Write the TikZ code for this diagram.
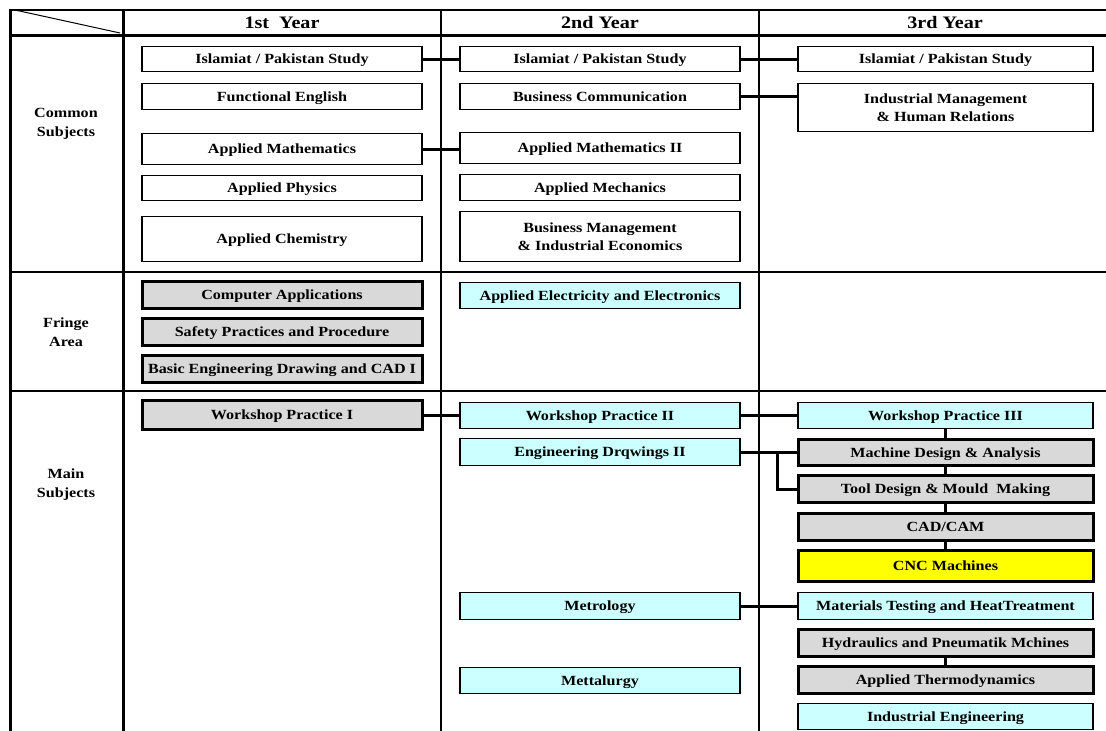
\documentclass[tikz,border=0pt]{standalone}
\usepackage{fontspec}
\setmainfont{Liberation Serif}[FakeStretch=1.15]
\definecolor{cyanfill}{HTML}{CCFFFF}
\definecolor{grayfill}{HTML}{D9D9D9}
\definecolor{yellowfill}{HTML}{FFFF00}
\tikzset{
  box/.style={draw=black, line width=1.6pt, inner sep=0pt, text depth=0pt,
    font=\fontsize{14}{18}\selectfont\bfseries},
  twoline/.style={align=center, text depth=, yshift=0pt},
  plainbox/.style={box, fill=white},
  cyanbox/.style={box, fill=cyanfill},
  graybox/.style={box, fill=grayfill, line width=3pt},
  yellowbox/.style={box, fill=yellowfill, line width=3pt},
  conn/.style={line width=3pt},
  thingrid/.style={line width=1.8pt},
  thickgrid/.style={line width=3pt},
  headtext/.style={font=\fontsize{17.5}{20}\selectfont\bfseries, inner sep=0pt},
  rowlabel/.style={font=\fontsize{14}{19}\selectfont\bfseries, align=center, inner sep=0pt},
  c1/.style={minimum width=280pt},
  c2/.style={minimum width=280pt},
  c3/.style={minimum width=295pt}
}
\begin{document}
\begin{tikzpicture}[x=1pt,y=-1pt]
\useasboundingbox (0,0) rectangle (1106,731);
% grid
\draw[thingrid] (10,10) -- (1106,10);
\draw[thickgrid] (10,35) -- (1106,35);
\draw[thingrid] (10,272) -- (1106,272);
\draw[thingrid] (10,391) -- (1106,391);
\draw[thickgrid] (10,8.5) -- (10,731);
\draw[thickgrid] (123,10) -- (123,731);
\draw[thingrid] (441,10) -- (441,731);
\draw[thingrid] (759,10) -- (759,731);
\draw[line width=1pt] (15,10) -- (120,33);
% headers
\node[headtext] (h1) at (282,23) {1st\ \ Year};
\node[headtext] (h2) at (600,23) {2nd Year};
\node[headtext] (h3) at (945,23) {3rd Year};
% row labels
\node[rowlabel] (lc) at (66,124) {Common\\Subjects};
\node[rowlabel] (lf) at (66,332) {Fringe\\Area};
\node[rowlabel] (lm) at (66,485) {Main\\Subjects};
% common subjects
\node[plainbox, c1, minimum height=25pt] (isl1) at (282,59) {Islamiat / Pakistan Study};
\node[plainbox, c1, minimum height=26pt] (fe) at (282,96.5) {Functional English};
\node[plainbox, c1, minimum height=31pt] (am1) at (282,149) {Applied Mathematics};
\node[plainbox, c1, minimum height=25pt] (ap) at (282,188) {Applied Physics};
\node[plainbox, c1, minimum height=45pt] (ac) at (282,239) {Applied Chemistry};
\node[plainbox, c2, minimum height=25pt] (isl2) at (600,59) {Islamiat / Pakistan Study};
\node[plainbox, c2, minimum height=26pt] (bc) at (600,96.5) {Business Communication};
\node[plainbox, c2, minimum height=31pt] (am2) at (600,148) {Applied Mathematics II};
\node[plainbox, c2, minimum height=26pt] (mech) at (600,187.5) {Applied Mechanics};
\node[plainbox, twoline, c2, minimum height=50pt] (bm) at (600,236.5) {Business Management\\\& Industrial Economics};
\node[plainbox, c3, minimum height=25pt] (isl3) at (945.5,59) {Islamiat / Pakistan Study};
\node[plainbox, twoline, c3, minimum height=48pt] (imhr) at (945.5,107.5) {Industrial Management\\\& Human Relations};
% fringe area
\node[graybox, c1, minimum height=27pt] (comp) at (282,294.5) {Computer Applications};
\node[graybox, c1, minimum height=27pt] (safe) at (282,331.5) {Safety Practices and Procedure};
\node[graybox, c1, minimum height=27pt] (bed) at (282,368.5) {Basic Engineering Drawing and CAD I};
\node[cyanbox, c2, minimum height=26pt] (aee) at (600,295.5) {Applied Electricity and Electronics};
% main subjects
\node[graybox, c1, minimum height=29pt] (wp1) at (282,415) {Workshop Practice I};
\node[cyanbox, c2, minimum height=26pt] (wp2) at (600,415.5) {Workshop Practice II};
\node[cyanbox, c2, minimum height=27pt] (ed2) at (600,452) {Engineering Drqwings II};
\node[cyanbox, c2, minimum height=27pt] (met) at (600,606) {Metrology};
\node[cyanbox, c2, minimum height=26pt] (mett) at (600,680.5) {Mettalurgy};
\node[cyanbox, c3, minimum height=26pt] (wp3) at (945.5,415.5) {Workshop Practice III};
\node[graybox, c3, minimum height=26pt] (md) at (945.5,452.5) {Machine Design \& Analysis};
\node[graybox, c3, minimum height=27pt] (td) at (945.5,489) {Tool Design \& Mould\ \ Making};
\node[graybox, c3, minimum height=27pt] (cad) at (945.5,527) {CAD/CAM};
\node[yellowbox, c3, minimum height=31pt] (cnc) at (945.5,566) {CNC Machines};
\node[cyanbox, c3, minimum height=27pt] (mt) at (945.5,606) {Materials Testing and HeatTreatment};
\node[graybox, c3, minimum height=27pt] (hyd) at (945.5,643) {Hydraulics and Pneumatik Mchines};
\node[graybox, c3, minimum height=27pt] (thermo) at (945.5,680) {Applied Thermodynamics};
\node[cyanbox, c3, minimum height=26pt] (ie) at (945.5,716.5) {Industrial Engineering};
% connectors
\draw[conn] (isl1.east) -- (isl2.west);
\draw[conn] (isl2.east) -- (isl3.west);
\draw[conn] (bc.east) -- (bc.east -| imhr.west);
\draw[conn] (am1.east) -- (am1.east -| am2.west);
\draw[conn] (wp1.east) -- (wp1.east -| wp2.west);
\draw[conn] (wp2.east) -- (wp3.west);
\draw[conn] (ed2.east) -- (ed2.east -| md.west);
\coordinate (br) at (777,452);
\draw[conn] (br) |- (td.west);
\draw[conn] (met.east) -- (mt.west);
\draw[conn] (wp3.south) -- (md.north);
\draw[conn] (md.south) -- (td.north);
\draw[conn] (td.south) -- (cad.north);
\draw[conn] (cad.south) -- (cnc.north);
\draw[conn] (hyd.south) -- (thermo.north);
\end{tikzpicture}
\end{document}
